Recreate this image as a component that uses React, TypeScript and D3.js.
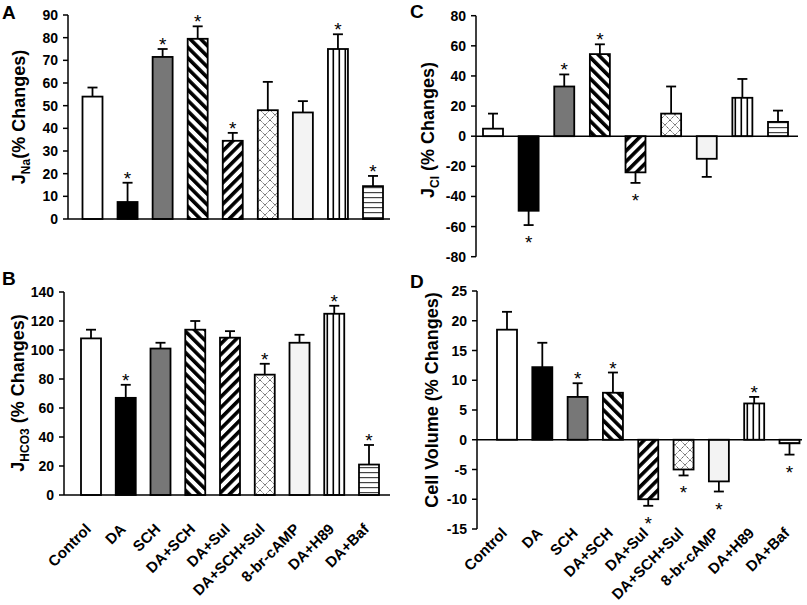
import React from 'react';
import * as d3 from 'd3';

const categories = ['Control', 'DA', 'SCH', 'DA+SCH', 'DA+Sul', 'DA+SCH+Sul', '8-br-cAMP', 'DA+H89', 'DA+Baf'];

const jNaValues = [54, 7.5, 71.5, 79.5, 34.5, 48, 47, 75, 14.5];
const jNaErrors = [4, 8.5, 3.5, 5.5, 3.5, 12.5, 5, 6.5, 4.5];
const jNaStars = [false, true, true, true, true, false, false, true, true];
const jNaTicks = [0, 10, 20, 30, 40, 50, 60, 70, 80, 90];

const jHco3Values = [108, 67, 101, 114, 108.5, 83, 105, 125, 21];
const jHco3Errors = [6, 9, 4, 6, 4.5, 7.5, 5.5, 5.5, 13.5];
const jHco3Stars = [false, true, false, false, false, true, false, true, true];
const jHco3Ticks = [0, 20, 40, 60, 80, 100, 120, 140];

const jClValues = [5, -49.5, 33, 54.5, -24, 15, -15, 25.5, 9.5];
const jClErrors = [10, 9.5, 8, 6.5, 7, 18, 12, 12.5, 7.5];
const jClStars = [false, true, true, true, true, false, false, false, false];
const jClTicks = [-80, -60, -40, -20, 0, 20, 40, 60, 80];

const volValues = [18.5, 12.2, 7.2, 7.9, -10, -5, -7, 6.1, -0.6];
const volErrors = [3, 4.1, 2.3, 3.4, 1.1, 1, 1.7, 1.1, 1.9];
const volStars = [false, false, true, true, true, true, true, true, true];
const volTicks = [-15, -10, -5, 0, 5, 10, 15, 20, 25];

const fills = ['#ffffff', '#000000', '#777777', 'url(#pBack)', 'url(#pFwd)', 'url(#pCross)', '#f3f3f3', 'url(#pVert)', 'url(#pHoriz)'];

const FONT = 'Liberation Sans, Arial, Helvetica, sans-serif';

type PanelProps = {
  label: string;
  labelPos: [number, number];
  axisX: number;
  axisEnd: number;
  centers: [number, number];
  yRange: [number, number];
  domain: [number, number];
  ticks: number[];
  values: number[];
  errors: number[];
  stars: boolean[];
  title: React.ReactNode;
  titlePos: [number, number];
  showLabels: boolean;
  labelY: number;
};

function Panel(p: PanelProps) {
  const x = d3.scalePoint<string>().domain(categories).range(p.centers);
  const y = d3.scaleLinear().domain(p.domain).range(p.yRange);
  const barW = 20;
  const capW = 10;
  const y0 = y(0);
  return (
    <g>
      <text x={p.labelPos[0]} y={p.labelPos[1]} fontFamily={FONT} fontWeight="bold" fontSize={19}>{p.label}</text>
      <line x1={p.axisX} x2={p.axisX} y1={y(p.domain[0])} y2={y(p.domain[1])} stroke="#000" strokeWidth={1.5} />
      {p.ticks.map((t) => (
        <g key={t}>
          <line x1={p.axisX - 5} x2={p.axisX} y1={y(t)} y2={y(t)} stroke="#000" strokeWidth={1.5} />
          <text x={p.axisX - 10} y={y(t)} dy="0.36em" textAnchor="end" fontFamily={FONT} fontWeight="bold" fontSize={14}>{t}</text>
        </g>
      ))}
      {categories.map((c, i) => {
        const v = p.values[i];
        const e = p.errors[i];
        const cx = x(c) as number;
        const top = Math.min(y(v), y0);
        const h = Math.abs(y(v) - y0);
        const ey = y(v + (v >= 0 ? e : -e));
        const starY = v >= 0 ? ey + 2 : ey + 24;
        return (
          <g key={c}>
            <line x1={cx} x2={cx} y1={y(v)} y2={ey} stroke="#000" strokeWidth={1.8} />
            <line x1={cx - capW / 2} x2={cx + capW / 2} y1={ey} y2={ey} stroke="#000" strokeWidth={1.8} />
            <rect x={cx - barW / 2} y={top} width={barW} height={h} fill={fills[i]} stroke="#000" strokeWidth={1.8} />
            {p.stars[i] && (
              <text x={cx} y={starY} textAnchor="middle" fontFamily={FONT} fontSize={19}>*</text>
            )}
          </g>
        );
      })}
      <line x1={p.axisX} x2={p.axisEnd} y1={y0} y2={y0} stroke="#000" strokeWidth={1.5} />
      <text transform={`translate(${p.titlePos[0]},${p.titlePos[1]}) rotate(-90)`} dy="0.35em" textAnchor="middle" fontFamily={FONT} fontWeight="bold" fontSize={18}>{p.title}</text>
      {p.showLabels && categories.map((c) => (
        <text key={c} transform={`translate(${(x(c) as number) + 1},${p.labelY}) rotate(-45)`} textAnchor="end" fontFamily={FONT} fontWeight="bold" fontSize={15}>{c}</text>
      ))}
    </g>
  );
}

export default function App() {
  return (
    <svg width={807} height={605} style={{ position: 'absolute', left: 0, top: 0, background: '#fff' }}>
      <defs>
        <pattern id="pBack" patternUnits="userSpaceOnUse" width={7.5} height={7.5} patternTransform="rotate(-45)">
          <rect width={7.5} height={7.5} fill="#fff" />
          <rect width={3.6} height={7.5} fill="#000" />
        </pattern>
        <pattern id="pFwd" patternUnits="userSpaceOnUse" width={7.5} height={7.5} patternTransform="rotate(45)">
          <rect width={7.5} height={7.5} fill="#fff" />
          <rect width={3.6} height={7.5} fill="#000" />
        </pattern>
        <pattern id="pCross" patternUnits="userSpaceOnUse" width={10} height={10}>
          <rect width={10} height={10} fill="#fff" />
          <path d="M0,0 L10,10 M10,0 L0,10" stroke="#333" strokeWidth={0.9} strokeDasharray="1.2,0.8" />
        </pattern>
        <pattern id="pVert" patternUnits="userSpaceOnUse" width={6} height={6}>
          <rect width={6} height={6} fill="#fff" />
          <rect x={2.5} width={1.6} height={6} fill="#000" />
        </pattern>
        <pattern id="pHoriz" patternUnits="userSpaceOnUse" width={5} height={5}>
          <rect width={5} height={5} fill="#fff" />
          <rect y={2} width={5} height={1.2} fill="#444" />
        </pattern>
      </defs>
      <Panel label="A" labelPos={[2, 19]} axisX={68} axisEnd={390} centers={[92.5, 373]} yRange={[219, 15]} domain={[0, 90]} ticks={jNaTicks}
        values={jNaValues} errors={jNaErrors} stars={jNaStars}
        title={<>J<tspan fontSize={12} dy={5}>Na</tspan><tspan dy={-5}>(% Changes)</tspan></>}
        titlePos={[19, 117]} showLabels={false} labelY={0} />
      <Panel label="B" labelPos={[2, 285]} axisX={64} axisEnd={390} centers={[91, 369]} yRange={[495, 292]} domain={[0, 140]} ticks={jHco3Ticks}
        values={jHco3Values} errors={jHco3Errors} stars={jHco3Stars}
        title={<>J<tspan fontSize={12} dy={5}>HCO3</tspan><tspan dy={-5}> (% Changes)</tspan></>}
        titlePos={[18, 393]} showLabels={true} labelY={530} />
      <Panel label="C" labelPos={[410, 18]} axisX={476} axisEnd={798} centers={[493, 778]} yRange={[256.7, 15.7]} domain={[-80, 80]} ticks={jClTicks}
        values={jClValues} errors={jClErrors} stars={jClStars}
        title={<>J<tspan fontSize={12} dy={5}>Cl</tspan><tspan dy={-5}> (% Changes)</tspan></>}
        titlePos={[428, 130]} showLabels={false} labelY={0} />
      <Panel label="D" labelPos={[410, 288]} axisX={477} axisEnd={802} centers={[507, 789.5]} yRange={[529, 291]} domain={[-15, 25]} ticks={volTicks}
        values={volValues} errors={volErrors} stars={volStars}
        title={<>Cell Volume (% Changes)</>}
        titlePos={[432, 400]} showLabels={true} labelY={534} />
    </svg>
  );
}
